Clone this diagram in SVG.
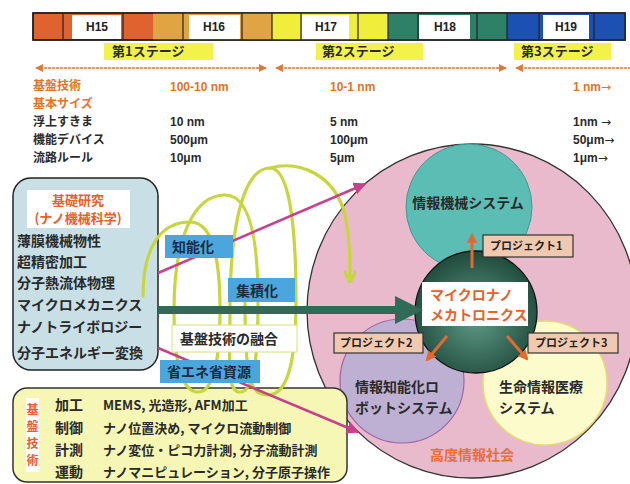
<svg xmlns="http://www.w3.org/2000/svg" width="630" height="484" viewBox="0 0 630 484">
<defs>
<style>
.jp{font-family:"Noto Sans CJK JP","Noto Sans",sans-serif;font-weight:700}
.lat{font-family:"Liberation Sans","Noto Sans",sans-serif;font-weight:700}
.arw{font-family:"DejaVu Sans",sans-serif;font-weight:400}
.org{fill:#e27426}
.dk{fill:#2a2a2a}
.cellsep{stroke:#222;stroke-width:1.2}
.hl{fill:#f2f24a}
.stage{stroke:#dc7a3c;stroke-width:1.6;fill:none;stroke-dasharray:3 1}
.blue{fill:#4aa6dc}
.bluet{fill:#1a2a44;font-size:14px}
.proj{fill:#f1c9b1;stroke:#333;stroke-width:1.2}
.projt{fill:#222;font-size:11px}
.mag{stroke:#c8408c;stroke-width:2.5;fill:none}
.helix{stroke:#c7d63c;stroke-width:3.2;fill:none;stroke-linecap:round}
.oarr{stroke:#e06a30;stroke-width:3;fill:none}
</style>
<marker id="ah" viewBox="0 0 10 10" refX="9" refY="5" markerWidth="5" markerHeight="5" orient="auto-start-reverse"><path d="M0,0 L10,5 L0,10 z" fill="#dc7a3c"/></marker>
<marker id="mh" viewBox="0 0 10 10" refX="9" refY="5" markerWidth="5" markerHeight="5" orient="auto"><path d="M0,0 L10,5 L0,10 z" fill="#c8408c"/></marker>
<marker id="oh" viewBox="0 0 10 10" refX="8" refY="5" markerWidth="3.5" markerHeight="3.5" orient="auto"><path d="M0,0 L10,5 L0,10 z" fill="#e06a30"/></marker>
<marker id="hh" viewBox="0 0 10 10" refX="8" refY="5" markerWidth="4" markerHeight="4" orient="auto"><path d="M0,0 L10,5 L0,10" fill="none" stroke="#c7d63c" stroke-width="2.5"/></marker>
<radialGradient id="dg" cx="0.5" cy="0.55" r="0.55"><stop offset="0" stop-color="#5f9a86"/><stop offset="1" stop-color="#1f4a3c"/></radialGradient>
</defs>

<g id="timeline">
<rect x="33" y="13" width="592" height="27" fill="#e0622e" stroke="#222" stroke-width="1.5"/>
<rect x="153" y="13" width="119" height="27" fill="#e0a445"/>
<rect x="272" y="13" width="116" height="27" fill="#f0ee3a"/>
<rect x="388" y="13" width="119" height="27" fill="#2e8066"/>
<rect x="507" y="13" width="118" height="27" fill="#1c50b2"/>
<rect x="72" y="15" width="49" height="24" fill="#fff"/>
<rect x="189" y="15" width="51" height="24" fill="#fff"/>
<rect x="302" y="15" width="47" height="24" fill="#fff"/>
<rect x="419" y="15" width="51" height="24" fill="#fff"/>
<rect x="543" y="15" width="46" height="24" fill="#fff"/>
<g class="cellsep">
<line x1="63" y1="13" x2="63" y2="40"/><line x1="123" y1="13" x2="123" y2="40"/><line x1="183" y1="13" x2="183" y2="40"/><line x1="242" y1="13" x2="242" y2="40"/><line x1="272" y1="13" x2="272" y2="40"/><line x1="301" y1="13" x2="301" y2="40"/><line x1="358" y1="13" x2="358" y2="40"/><line x1="388" y1="13" x2="388" y2="40"/><line x1="418" y1="13" x2="418" y2="40"/><line x1="477" y1="13" x2="477" y2="40"/><line x1="507" y1="13" x2="507" y2="40"/><line x1="539" y1="13" x2="539" y2="40"/><line x1="594" y1="13" x2="594" y2="40"/>
</g>
<rect x="33" y="13" width="592" height="27" fill="none" stroke="#222" stroke-width="1.5"/>
<g class="lat" font-size="12" fill="#222" text-anchor="middle">
<text x="97" y="31">H15</text><text x="214" y="31">H16</text><text x="326" y="31">H17</text><text x="445" y="31">H18</text><text x="566" y="31">H19</text>
</g>
<rect class="hl" x="104" y="43" width="109" height="17"/>
<rect class="hl" x="316" y="43" width="107" height="17"/>
<rect class="hl" x="514" y="43" width="97" height="17"/>
<g class="jp dk" font-size="13">
<text x="112" y="56">第1ステージ</text><text x="322" y="56">第2ステージ</text><text x="521" y="56">第3ステージ</text>
</g>
<line class="stage" x1="36" y1="68" x2="266" y2="68" marker-start="url(#ah)" marker-end="url(#ah)"/>
<line class="stage" x1="276" y1="68" x2="506" y2="68" marker-start="url(#ah)" marker-end="url(#ah)"/>
<line class="stage" x1="516" y1="68" x2="630" y2="68" marker-start="url(#ah)"/>
</g>

<g id="sizes">
<g class="jp" font-size="12">
<text class="org" x="33" y="90">基盤技術</text>
<text class="org" x="33" y="108">基本サイズ</text>
<text class="dk" x="33" y="126">浮上すきま</text>
<text class="dk" x="33" y="144">機能デバイス</text>
<text class="dk" x="33" y="162">流路ルール</text>
</g>
<g class="lat" font-size="12">
<text class="org" x="170" y="91">100-10 nm</text>
<text class="dk" x="170" y="126">10 nm</text>
<text class="dk" x="170" y="144">500μm</text>
<text class="dk" x="170" y="162">10μm</text>
<text class="org" x="330" y="91">10-1 nm</text>
<text class="dk" x="330" y="126">5 nm</text>
<text class="dk" x="330" y="144">100μm</text>
<text class="dk" x="330" y="162">5μm</text>
<text class="org" x="573" y="91">1 nm<tspan class="arw">→</tspan></text>
<text class="dk" x="573" y="126">1nm <tspan class="arw">→</tspan></text>
<text class="dk" x="573" y="144">50μm<tspan class="arw">→</tspan></text>
<text class="dk" x="573" y="162">1μm<tspan class="arw">→</tspan></text>
</g>
</g>

<g id="society">
<ellipse cx="472" cy="311" rx="165" ry="167" fill="#e8bacb" stroke="#333" stroke-width="1.3"/>
<text class="jp" x="472" y="460" font-size="14" fill="#e86e3c" text-anchor="middle">高度情報社会</text>
</g>
<g id="infomech">
<circle cx="469" cy="207" r="63" fill="#5cbdb5" stroke="#3c9a92" stroke-width="1"/>
<text class="jp dk" x="468" y="208" font-size="14" text-anchor="middle">情報機械システム</text>
</g>
<g id="robot">
<circle cx="402" cy="381" r="62" fill="#bdb0d2" stroke="#a064a8" stroke-width="1.2"/>
<text class="jp dk" x="355" y="392" font-size="14">情報知能化ロ</text>
<text class="jp dk" x="355" y="413" font-size="14">ボットシステム</text>
</g>
<g id="medical">
<circle cx="545" cy="383" r="62" fill="#fbfbcc" stroke="#e8dc70" stroke-width="1.5"/>
<text class="jp dk" x="499" y="392" font-size="14">生命情報医療</text>
<text class="jp dk" x="499" y="413" font-size="14">システム</text>
</g>
<g id="core">
<circle cx="476" cy="312" r="61" fill="url(#dg)" stroke="#111" stroke-width="1.3"/>
<rect x="422" y="282" width="106" height="44" fill="#fff"/>
<text class="jp" x="430" y="300" font-size="14" fill="#e8602a">マイクロナノ</text>
<text class="jp" x="430" y="320" font-size="14" fill="#e8602a">メカトロニクス</text>
</g>

<g id="basic-research">
<rect x="13" y="178" width="145" height="192" rx="18" fill="#c8dfe6" stroke="#222" stroke-width="1.5"/>
<rect x="27" y="190" width="103" height="38" fill="#fff"/>
<text class="jp" x="78" y="205" font-size="13" fill="#e8602a" text-anchor="middle">基礎研究</text>
<text class="jp" x="78" y="223" font-size="13" fill="#e8602a" text-anchor="middle">(ナノ機械科学)</text>
<g class="jp dk" font-size="14">
<text x="17" y="246">薄膜機械物性</text>
<text x="17" y="267">超精密加工</text>
<text x="17" y="288">分子熱流体物理</text>
<text x="17" y="310">マイクロメカニクス</text>
<text x="17" y="332">ナノトライボロジー</text>
<text x="17" y="358">分子エネルギー変換</text>
</g>
</g>

<g id="basic-tech">
<rect x="13" y="388" width="334" height="94" rx="14" fill="#f7f7b5" stroke="#333" stroke-width="1.5"/>
<rect x="26" y="398" width="13" height="74" fill="#fff"/>
<text class="jp" font-size="12" fill="#e8602a" text-anchor="middle"><tspan x="32.5" y="414">基</tspan><tspan x="32.5" y="431">盤</tspan><tspan x="32.5" y="448">技</tspan><tspan x="32.5" y="465">術</tspan></text>
<g class="jp dk" font-size="14">
<text x="55" y="410">加工</text><text x="55" y="433">制御</text><text x="55" y="455">計測</text><text x="55" y="477">運動</text>
</g>
<g class="jp dk" font-size="13">
<text x="103" y="410">MEMS, 光造形, AFM加工</text>
<text x="103" y="433">ナノ位置決め, マイクロ流動制御</text>
<text x="103" y="455">ナノ変位・ピコ力計測, 分子流動計測</text>
<text x="103" y="477">ナノマニピュレーション, 分子原子操作</text>
</g>
</g>

<g id="connectors">
<path class="helix" d="M143,296 C143,245 162,222 190,222 C212,222 220,255 220,310 C220,365 212,392 198,392 C183,392 174,365 174,310 C174,235 195,195 225,195 C250,195 258,240 258,300 C258,370 252,392 240,392 C226,392 230,360 230,310 C230,220 245,168 270,168 C290,168 296,230 296,300 C296,370 285,395 268,395 C250,395 245,380 245,300"/>
<path class="helix" d="M270,168 C300,160 335,175 345,215 C350,240 350,260 350,280" marker-end="url(#hh)"/>
<line class="mag" x1="158" y1="273" x2="365" y2="184" marker-end="url(#mh)"/>
<line class="mag" x1="158" y1="348" x2="358" y2="432" marker-end="url(#mh)"/>
<rect x="158" y="306" width="240" height="8" fill="#2f6b57"/>
<polygon points="395,296 423,310 395,324" fill="#2f6b57"/>
<line class="oarr" x1="472" y1="268" x2="472" y2="235" marker-end="url(#oh)"/>
<line class="oarr" x1="447" y1="336" x2="427" y2="360" marker-end="url(#oh)"/>
<line class="oarr" x1="507" y1="336" x2="527" y2="359" marker-end="url(#oh)"/>
</g>

<g id="label-chino">
<rect class="blue" x="165" y="235" width="68" height="23"/>
<text class="jp bluet" x="172" y="252">知能化</text>
</g>
<g id="label-shuseki">
<rect class="blue" x="228" y="278" width="67" height="24"/>
<text class="jp bluet" x="236" y="296">集積化</text>
</g>
<g id="label-yugo">
<rect x="172" y="325" width="125" height="27" fill="#fff" stroke="#d8e07a" stroke-width="1"/>
<text class="jp dk" x="180" y="344" font-size="14">基盤技術の融合</text>
</g>
<g id="label-shoene">
<rect class="blue" x="160" y="360" width="100" height="23"/>
<text class="jp bluet" x="167" y="377">省エネ省資源</text>
</g>
<g id="proj1">
<rect class="proj" x="483" y="235" width="90" height="22"/>
<text class="jp projt" x="490" y="250">プロジェクト1</text>
</g>
<g id="proj2">
<rect class="proj" x="334" y="333" width="89" height="20"/>
<text class="jp projt" x="340" y="347">プロジェクト2</text>
</g>
<g id="proj3">
<rect class="proj" x="528" y="333" width="90" height="20"/>
<text class="jp projt" x="535" y="347">プロジェクト3</text>
</g>
</svg>
